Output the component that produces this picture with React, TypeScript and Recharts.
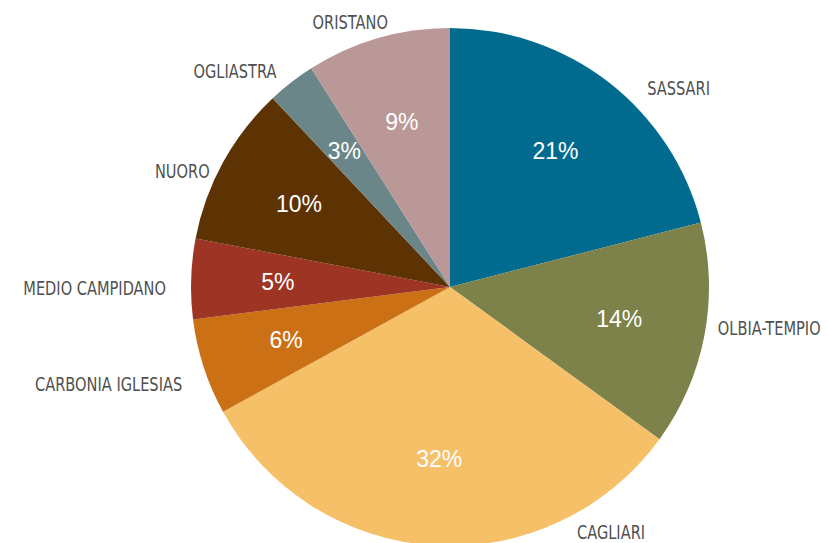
import { PieChart, Pie, Cell } from "recharts";

const PROVINCES = [
  "SASSARI",
  "OLBIA-TEMPIO",
  "CAGLIARI",
  "CARBONIA IGLESIAS",
  "MEDIO CAMPIDANO",
  "NUORO",
  "OGLIASTRA",
  "ORISTANO",
];

const SHARES = [21, 14, 32, 6, 5, 10, 3, 9];

const COLORS = [
  "#016a8f",
  "#7d814a",
  "#f5c068",
  "#cc7016",
  "#9e3423",
  "#5e3304",
  "#6b8689",
  "#bb9898",
];

// nudges so the outer names sit like in the original: angle (deg) and gap (px)
const LABEL_SHIFT = [-7, 2, 31, 2, 2, 3, 1, -3];
const LABEL_GAP = [21, 12, 17, 26, 25, 8, 18, 13];

const data = PROVINCES.map((name, i) => ({ name, value: SHARES[i] }));

const RAD = Math.PI / 180;

const renderLabel = (props: any) => {
  const { cx, cy, midAngle, outerRadius, index, value, name } = props;
  const inR = outerRadius * 0.665;
  const ix = cx + inR * Math.cos(-midAngle * RAD);
  const iy = cy + inR * Math.sin(-midAngle * RAD);
  const a = midAngle + LABEL_SHIFT[index];
  const outR = outerRadius + LABEL_GAP[index];
  const ox = cx + outR * Math.cos(-a * RAD);
  const oy = cy + outR * Math.sin(-a * RAD);
  const anchor = Math.cos(-a * RAD) < 0 ? "end" : "start";
  return (
    <g>
      <text
        x={ix}
        y={iy}
        fill="#ffffff"
        textAnchor="middle"
        dominantBaseline="central"
        fontFamily="'Liberation Sans', Arial, sans-serif"
        fontSize={23}
      >
        {`${value}%`}
      </text>
      {/* names are set in a tall condensed face in the original */}
      <g transform={`translate(${ox},${oy}) scale(0.73,1)`}>
        <text
          x={0}
          y={0}
          fill="#505050"
          textAnchor={anchor}
          dominantBaseline="central"
          fontFamily="'DejaVu Sans', sans-serif"
          fontSize={20}
        >
          {name}
        </text>
      </g>
    </g>
  );
};

export default function App() {
  return (
    <div style={{ position: "absolute", left: 0, top: 0, background: "#fff" }}>
      <PieChart width={828} height={543} margin={{ top: 0, right: 0, bottom: 0, left: 0 }}>
        <Pie
          data={data}
          dataKey="value"
          nameKey="name"
          cx={450}
          cy={287}
          outerRadius={259}
          startAngle={90}
          endAngle={-270}
          stroke="none"
          label={renderLabel}
          labelLine={false}
          isAnimationActive={false}
        >
          {data.map((entry, index) => (
            <Cell key={`cell-${index}`} fill={COLORS[index]} />
          ))}
        </Pie>
      </PieChart>
    </div>
  );
}
